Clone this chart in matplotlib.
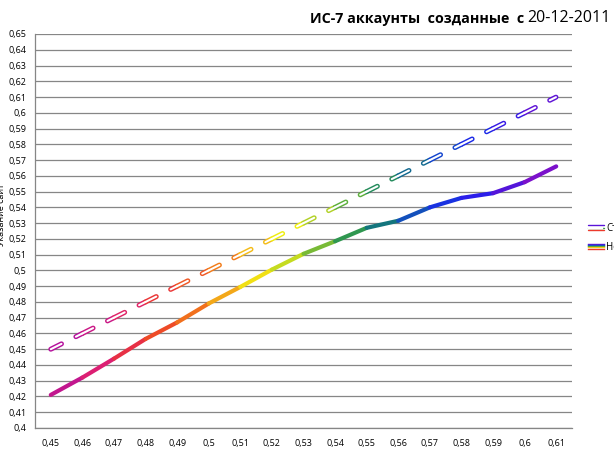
import numpy as np
import matplotlib
matplotlib.use('Agg')
import matplotlib.pyplot as plt
from matplotlib.collections import LineCollection
from matplotlib.colors import LinearSegmentedColormap
from matplotlib.legend_handler import HandlerBase
from matplotlib.lines import Line2D
from matplotlib.ticker import FuncFormatter, MultipleLocator

plt.rcParams['font.family'] = ['Open Sans', 'DejaVu Sans']
plt.rcParams['lines.scale_dashes'] = False

# Категории по оси X
categories = ['0,45', '0,46', '0,47', '0,48', '0,49', '0,5', '0,51', '0,52', '0,53',
              '0,54', '0,55', '0,56', '0,57', '0,58', '0,59', '0,6', '0,61']

# Верхняя (пунктирная) серия
upper = [0.45, 0.46, 0.47, 0.48, 0.49, 0.50, 0.51, 0.52, 0.53,
         0.54, 0.55, 0.56, 0.57, 0.58, 0.59, 0.60, 0.61]

# Нижняя (сплошная) серия
lower = [0.421, 0.432, 0.444, 0.4565, 0.467, 0.479, 0.4895, 0.5005, 0.5105,
         0.5185, 0.527, 0.5315, 0.540, 0.546, 0.549, 0.556, 0.566]

labels = ['Стандарт', 'Новые']
title_bold = 'ИС-7 аккаунты  созданные  с'
title_date = '20-12-2011'
ylabel = 'Указание сайт'

rainbow = LinearSegmentedColormap.from_list('rainbow_xl', [
    (0.00, '#b5129c'),
    (0.10, '#de2070'),
    (0.19, '#ec3a2c'),
    (0.30, '#f27a1a'),
    (0.38, '#f4cc18'),
    (0.43, '#eef010'),
    (0.50, '#a8cc2c'),
    (0.58, '#36a044'),
    (0.66, '#12747e'),
    (0.75, '#1440d8'),
    (0.83, '#2020ee'),
    (0.92, '#5a14d8'),
    (1.00, '#8c10c4'),
])


class RainbowHandler(HandlerBase):
    def __init__(self, hollow):
        super().__init__()
        self.hollow = hollow

    def create_artists(self, legend, orig_handle, xdescent, ydescent,
                       width, height, fontsize, trans):
        y = height / 2 - ydescent
        x0, x1 = -xdescent, width - xdescent
        out = []
        if self.hollow:
            cols = ['#5a14d8', '#36a044', '#ec3a2c']
            for dy, c in zip([1.6, 0, -1.6], cols):
                out.append(Line2D([x0, x1], [y + dy, y + dy], color=c, lw=1.0,
                                  solid_capstyle='round', transform=trans))
            out.append(Line2D([x0 + 1, x1 - 1], [y, y], color='white', lw=1.6,
                              transform=trans))
        else:
            cols = ['#5a14d8', '#1440d8', '#36a044', '#f4cc18', '#ec3a2c']
            for dy, c in zip([1.6, 0.8, 0, -0.8, -1.6], cols):
                out.append(Line2D([x0, x1], [y + dy, y + dy], color=c, lw=1.0,
                                  transform=trans))
        return out


fig = plt.figure(figsize=(6.14, 4.5), dpi=100)
ax = fig.add_axes([35 / 614, 1 - 428 / 450, 537 / 614, 394 / 450])

x = np.arange(len(categories))
n = len(categories) - 1

# Пунктирная полая линия с градиентом
up = np.array(upper)
seg_u = np.stack([np.column_stack([x[:-1], up[:-1]]), np.column_stack([x[1:], up[1:]])], axis=1)
t_u = np.clip((x[:-1] + 0.5) / n - 0.04, 0, 1)
dash = (0, (8.6, 11.6, 5.0, 100))
lc_out = LineCollection(seg_u, colors=rainbow(t_u), linewidths=3.6, linestyles=[dash],
                        capstyle='round', zorder=3)
lc_in = LineCollection(seg_u, colors='white', linewidths=1.5, linestyles=[dash],
                       capstyle='round', zorder=4)
ax.add_collection(lc_out)
ax.add_collection(lc_in)

# Сплошная линия с градиентом
lo = np.array(lower)
seg_l = np.stack([np.column_stack([x[:-1], lo[:-1]]), np.column_stack([x[1:], lo[1:]])], axis=1)
t_l = (x[:-1] + 0.5) / n
lc_low = LineCollection(seg_l, colors=rainbow(t_l), linewidths=3.0,
                        capstyle='round', joinstyle='round', zorder=3)
ax.add_collection(lc_low)

ax.set_xlim(-0.5, n + 0.5)
ax.set_ylim(0.4, 0.65)
ax.set_xticks(x)
ax.set_xticklabels(categories)
ax.yaxis.set_major_locator(MultipleLocator(0.01))
ax.yaxis.set_major_formatter(FuncFormatter(lambda v, p: f'{round(v, 2):g}'.replace('.', ',')))
ax.tick_params(axis='both', length=0, labelsize=6.5, colors='black')
ax.tick_params(axis='y', pad=6)
ax.tick_params(axis='x', pad=8)
ax.grid(axis='y', color='#868686', linewidth=0.9)
ax.set_axisbelow(True)
for s in ['top', 'right']:
    ax.spines[s].set_visible(False)
for s in ['left', 'bottom']:
    ax.spines[s].set_color('#868686')
    ax.spines[s].set_linewidth(0.9)

# Легенда (обрезана правым краем, как в оригинале)
h1 = Line2D([], [])
h2 = Line2D([], [])
fig.legend([h1, h2], labels, handler_map={h1: RainbowHandler(True), h2: RainbowHandler(False)},
           loc='upper left', bbox_to_anchor=(588 / 614, 1 - 223 / 450), frameon=False,
           fontsize=7, handlelength=1.6, handletextpad=0.3, labelspacing=0.8,
           borderpad=0, borderaxespad=0)

# Подпись оси Y (обрезана левым краем)
fig.text(0.003, 1 - 215 / 450, ylabel, rotation=90, ha='center', va='center', fontsize=6.5)

# Заголовок: жирная часть + дата обычным шрифтом
t_date = fig.text(611 / 614, 1 - 22 / 450, title_date, ha='right', va='baseline', fontsize=11.5)
ax.annotate(title_bold + ' ', xy=(0, 0), xycoords=t_date, ha='right', va='bottom',
            fontsize=10.3, fontweight='bold', annotation_clip=False)

fig.savefig('out.png', dpi=100)
